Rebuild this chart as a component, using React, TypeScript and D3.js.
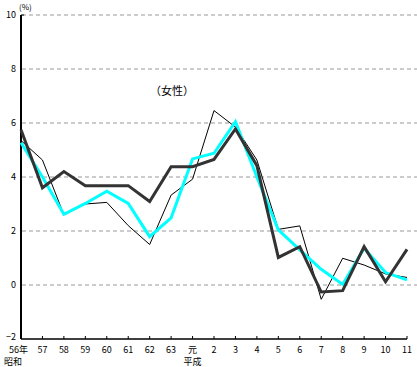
import React from "react";
import * as d3 from "d3";

// 年次（昭和56年〜平成11年）
const categories = ["56", "57", "58", "59", "60", "61", "62", "63", "元", "2", "3", "4", "5", "6", "7", "8", "9", "10", "11"];
const tickLabels = ["56年", "57", "58", "59", "60", "61", "62", "63", "元", "2", "3", "4", "5", "6", "7", "8", "9", "10", "11"];
const yTicks = [-2, 0, 2, 4, 6, 8, 10];

// 3 系列（%）
const thinSeries = [5.35, 4.63, 2.6, 3.0, 3.06, 2.2, 1.5, 3.33, 3.92, 6.46, 5.85, 4.63, 2.06, 2.19, -0.53, 0.99, 0.74, 0.41, 0.28];
const darkSeries = [5.75, 3.6, 4.2, 3.68, 3.68, 3.68, 3.09, 4.38, 4.38, 4.65, 5.78, 4.42, 1.02, 1.42, -0.26, -0.21, 1.42, 0.12, 1.32];
const cyanSeries = [5.27, 4.0, 2.62, 3.02, 3.47, 3.02, 1.79, 2.49, 4.67, 4.88, 6.05, 4.0, 2.04, 1.3, 0.58, 0.02, 1.36, 0.46, 0.19];

const W = 417;
const H = 367;
const FONT = "'Noto Sans CJK JP', 'DejaVu Sans', sans-serif";

export default function App() {
  const x = d3.scalePoint<string>().domain(categories).range([21, 407]);
  const y = d3.scaleLinear().domain([-2, 10]).range([339, 15]);

  const line = d3
    .line<number>()
    .x((_, i) => x(categories[i]) as number)
    .y((d) => y(d));

  return (
    <svg width={W} height={H} style={{ position: "absolute", left: 0, top: 0, background: "#fff" }}>
      {/* grid lines */}
      {yTicks
        .filter((t) => t > -2)
        .map((t) => (
          <line key={"g" + t} x1={22} x2={W} y1={y(t)} y2={y(t)} stroke="#999" strokeWidth={1} strokeDasharray="4,3" />
        ))}

      {/* y axis */}
      <line x1={21} x2={21} y1={y(10)} y2={y(-2)} stroke="#000" strokeWidth={2} />
      <line x1={21} x2={24} y1={y(10)} y2={y(10)} stroke="#000" strokeWidth={1} />
      {yTicks.map((t) => (
        <text key={"yl" + t} x={16} y={y(t) + (t < 0 ? 1 : 3)} fontSize={9} textAnchor="end" fontFamily={FONT} fill="#000">
          {t < 0 ? "−" + Math.abs(t) : t}
        </text>
      ))}
      <text x={19} y={10} fontSize={8} fontFamily={FONT} fill="#000">(%)</text>

      {/* x axis */}
      <line x1={21} x2={x("11") as number} y1={y(-2)} y2={y(-2)} stroke="#000" strokeWidth={1.5} />
      {categories.map((c) => (
        <line key={"t" + c} x1={x(c) as number} x2={x(c) as number} y1={y(-2)} y2={y(-2) - 3} stroke="#000" strokeWidth={1} />
      ))}
      {categories.map((c, i) => (
        <text
          key={"xl" + c}
          x={i === 0 ? (x(c) as number) + 7 : (x(c) as number)}
          y={353}
          fontSize={9}
          textAnchor={i === 0 ? "end" : "middle"}
          fontFamily={FONT}
          fill="#000"
        >
          {tickLabels[i]}
        </text>
      ))}
      <text x={(x("56") as number) - 8} y={365} fontSize={9} textAnchor="middle" fontFamily={FONT} fill="#000">昭和</text>
      <text x={x("元") as number} y={365} fontSize={9} textAnchor="middle" fontFamily={FONT} fill="#000">平成</text>

      {/* series */}
      <path d={line(thinSeries) ?? ""} fill="none" stroke="#000" strokeWidth={1} />
      <path d={line(cyanSeries) ?? ""} fill="none" stroke="#00ffff" strokeWidth={3} strokeLinejoin="miter" />
      <path d={line(darkSeries) ?? ""} fill="none" stroke="#333" strokeWidth={3} strokeLinejoin="miter" />

      <text x={172} y={95} fontSize={11} textAnchor="middle" fontFamily={FONT} fill="#000">（女性）</text>
    </svg>
  );
}
